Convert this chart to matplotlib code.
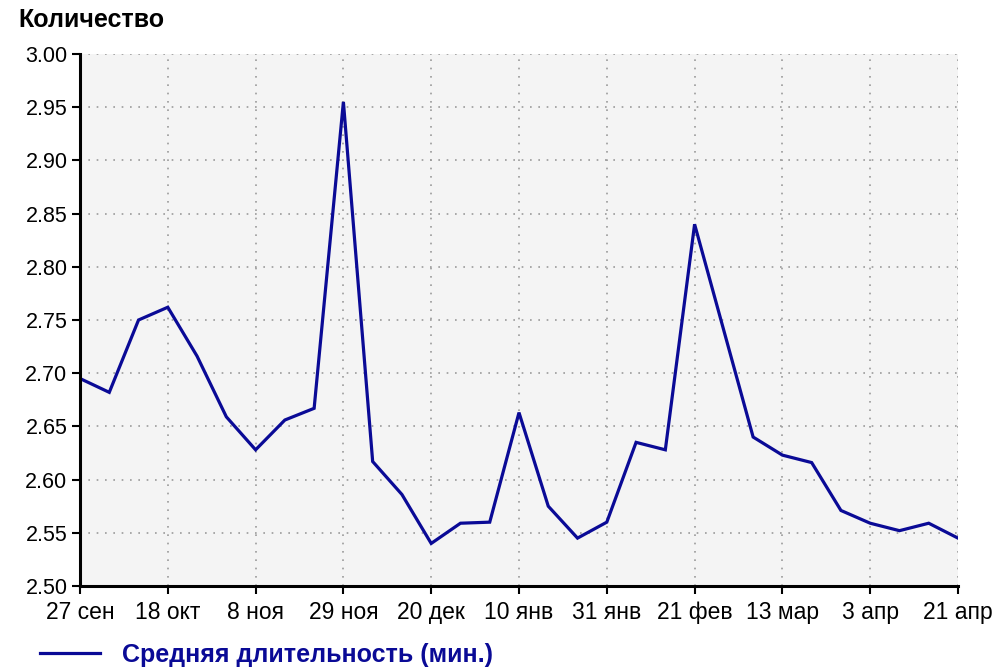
import matplotlib
matplotlib.use("Agg")
import matplotlib.pyplot as plt

plt.rcParams['font.family'] = ['Liberation Sans', 'DejaVu Sans']

tick_labels = ["27 сен", "18 окт", "8 ноя", "29 ноя", "20 дек", "10 янв",
               "31 янв", "21 фев", "13 мар", "3 апр", "21 апр"]
values = [2.695, 2.682, 2.750, 2.762, 2.716, 2.659, 2.628, 2.656, 2.667, 2.955,
          2.617, 2.586, 2.540, 2.559, 2.560, 2.663, 2.575, 2.545, 2.560, 2.635,
          2.628, 2.840, 2.740, 2.640, 2.623, 2.616, 2.571, 2.559, 2.552, 2.559,
          2.545]
series_name = "Средняя длительность (мин.)"
y_title = "Количество"
y_ticks = [2.50, 2.55, 2.60, 2.65, 2.70, 2.75, 2.80, 2.85, 2.90, 2.95, 3.00]

W, H = 994, 669
fig = plt.figure(figsize=(W / 100, H / 100), dpi=100)
ax = fig.add_axes([80 / W, (H - 586) / H, 878 / W, 532 / H])
ax.set_facecolor("#f4f4f4")

x = list(range(len(values)))
line, = ax.plot(x, values, color="#0a0a96", lw=2.3, solid_joinstyle="miter")

ax.set_xlim(0, len(values) - 1)
ax.set_ylim(2.50, 3.00)
ax.set_xticks(x[::3])
ax.set_xticklabels(tick_labels)
ax.set_yticks(y_ticks)
ax.set_yticklabels([f"{v:.2f}" for v in y_ticks])

ax.grid(True, color="#9a9a9a", linestyle=(0, (1, 4)), linewidth=1.2)
ax.set_axisbelow(True)
for s in ("top", "right"):
    ax.spines[s].set_visible(False)
for s in ("left", "bottom"):
    ax.spines[s].set_linewidth(2.2)
    ax.spines[s].set_color("black")
ax.tick_params(axis="both", direction="out", length=6, width=1.5,
               labelsize=15.5, colors="black", pad=3)
ax.tick_params(axis="x", pad=5, labelsize=16.5)

fig.text(18 / W, 1 - 20 / H, y_title, fontsize=18, fontweight="bold",
         ha="left", va="center")

leg = fig.legend([line], [series_name], loc="center left",
                 bbox_to_anchor=(40 / W, 1 - 655 / H), frameon=False,
                 borderpad=0, borderaxespad=0,
                 handlelength=2.4, handletextpad=0.9,
                 prop={"size": 18, "weight": "bold"}, labelcolor="#0a0a96")

fig.savefig("out.png", dpi=100)
